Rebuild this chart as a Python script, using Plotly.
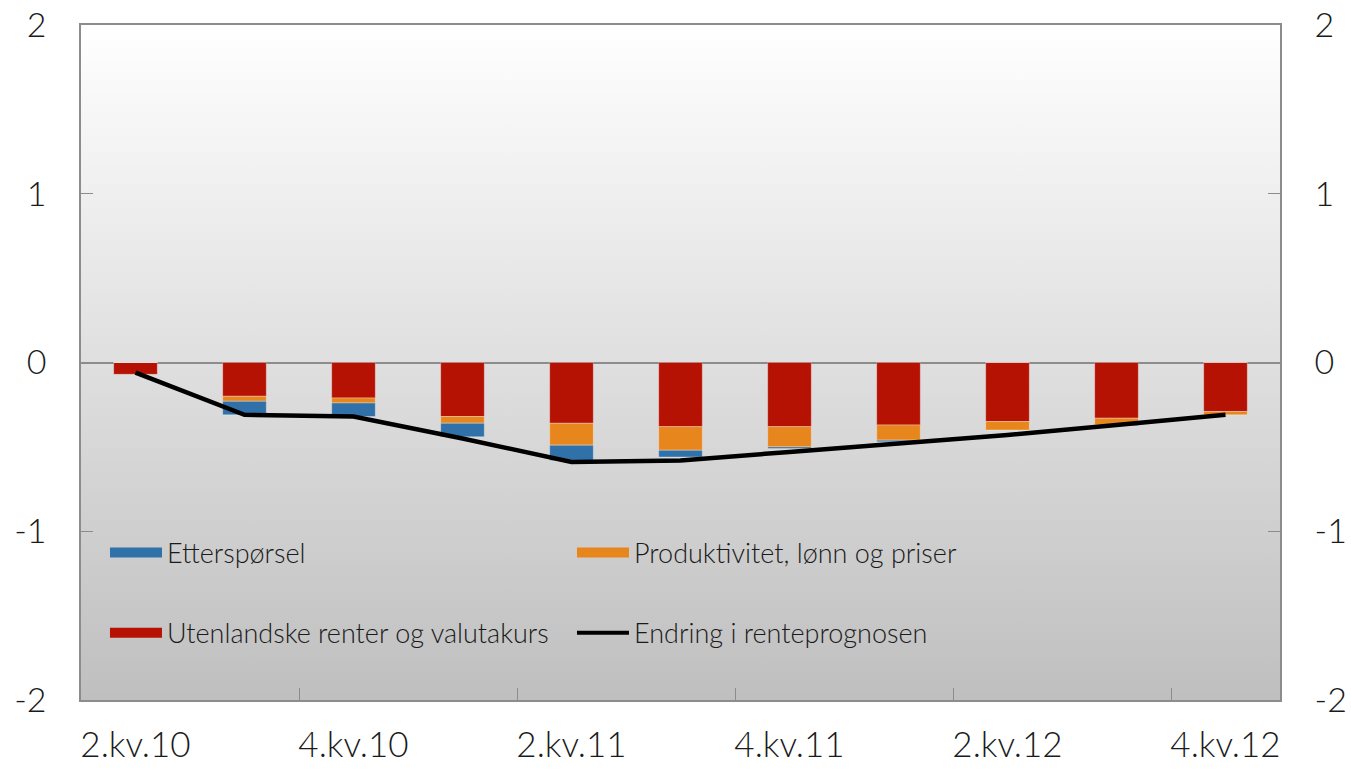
import base64

import plotly.graph_objects as go

# Data ------------------------------------------------------------------------

quarters = ["2.kv.10", "3.kv.10", "4.kv.10", "1.kv.11", "2.kv.11", "3.kv.11",
            "4.kv.11", "1.kv.12", "2.kv.12", "3.kv.12", "4.kv.12"]

utenlandske = [-0.07, -0.20, -0.21, -0.32, -0.36, -0.38, -0.38, -0.37, -0.35, -0.33, -0.29]
produktivitet = [0.0, -0.03, -0.03, -0.04, -0.13, -0.14, -0.12, -0.09, -0.05, -0.04, -0.02]
etterspoersel = [0.0, -0.08, -0.08, -0.08, -0.09, -0.04, -0.01, -0.01, 0.0, -0.005, 0.0]
endring = [-0.06, -0.31, -0.32, -0.45, -0.59, -0.58, -0.53, -0.48, -0.43, -0.37, -0.31]

y_ticks = [-2, -1, 0, 1, 2]
y_ticktext = ["-2", "-1", "0", "1", "2"]

# Styles ----------------------------------------------------------------------

BLUE = "#3171a9"
ORANGE = "#e8861e"
RED = "#b51204"
AXIS = "#8c8c8c"
TEXT = "#1a1a1a"
FONT = "'Lato Light', Lato, 'Open Sans', sans-serif"

# vertical white -> grey gradient behind the plot area
_svg = (
    '<svg xmlns="http://www.w3.org/2000/svg" width="10" height="100" preserveAspectRatio="none">'
    '<defs><linearGradient id="g" x1="0" y1="0" x2="0" y2="1">'
    '<stop offset="0" stop-color="#ffffff"/><stop offset="1" stop-color="#bfbfbf"/>'
    '</linearGradient></defs><rect width="10" height="100" fill="url(#g)"/></svg>'
)
GRADIENT = "data:image/svg+xml;base64," + base64.b64encode(_svg.encode()).decode()

fig = go.Figure()

bar_line = dict(color="rgba(255,255,255,0.3)", width=1)
for name, vals, col in [
    ("Utenlandske renter og valutakurs", utenlandske, RED),
    ("Produktivitet, lønn og priser", produktivitet, ORANGE),
    ("Etterspørsel", etterspoersel, BLUE),
]:
    fig.add_trace(go.Bar(
        x=quarters, y=vals, name=name,
        marker=dict(color=col, line=bar_line),
        showlegend=False,
    ))

fig.add_trace(go.Scatter(
    x=quarters, y=endring, mode="lines", yaxis="y2",
    line=dict(color="black", width=4.5),
    showlegend=False,
))

# legend entries (wide swatches like the original)
for name, col, w, leg in [
    ("Etterspørsel", BLUE, 16, "legend"),
    ("Produktivitet, lønn og priser", ORANGE, 16, "legend"),
    ("Utenlandske renter og valutakurs", RED, 16, "legend2"),
    ("Endring i renteprognosen", "black", 4, "legend2"),
]:
    fig.add_trace(go.Scatter(
        x=[None], y=[None], mode="lines", name=name,
        line=dict(color=col, width=w), legend=leg, showlegend=True,
    ))

legend_style = dict(
    orientation="h", bgcolor="rgba(0,0,0,0)", borderwidth=0,
    font=dict(family=FONT, size=27, color=TEXT, weight=300),
    itemwidth=52, entrywidth=400, entrywidthmode="pixels",
    xanchor="left", yanchor="middle", x=0.02,
    traceorder="normal",
)

yaxis_common = dict(
    range=[-2, 2], tickmode="array", tickvals=y_ticks, ticktext=y_ticktext,
    ticks="inside", ticklen=12, tickcolor=AXIS,
    showgrid=False, showline=True, linecolor=AXIS, linewidth=1.5,
    tickfont=dict(family=FONT, size=34, color=TEXT, weight=300),
    ticklabelstandoff=26, ticklabeloverflow="allow", automargin=False,
)

fig.update_layout(
    width=1351, height=769,
    margin=dict(l=81, r=71, t=25, b=69),
    paper_bgcolor="white",
    plot_bgcolor="rgba(0,0,0,0)",
    barmode="relative",
    bargap=0.6,
    font=dict(family=FONT, color=TEXT),
    xaxis=dict(
        type="category", range=[-0.5, 10.5],
        tickmode="linear", tick0=0, dtick=2, tickson="boundaries",
        ticks="inside", ticklen=12, tickcolor=AXIS, tickangle=0,
        showline=True, linecolor=AXIS, linewidth=1.5, mirror=True,
        showgrid=False, automargin=False, ticklabeloverflow="allow",
        tickfont=dict(family=FONT, size=35, color=TEXT, weight=300),
        ticklabelstandoff=13,
    ),
    yaxis=dict(
        **yaxis_common,
        zeroline=True, zerolinecolor=AXIS, zerolinewidth=2,
    ),
    yaxis2=dict(
        **yaxis_common,
        overlaying="y", side="right", zeroline=False,
    ),
    legend=dict(**legend_style, y=0.218),
    legend2=dict(**legend_style, y=0.099),
    images=[dict(
        source=GRADIENT, xref="x domain", yref="y domain",
        x=0, y=1, sizex=1, sizey=1, xanchor="left", yanchor="top",
        sizing="stretch", layer="below",
    )],
)

# drop the default 8px page margin so the figure fills the window exactly
fig.write_html(
    "out.html",
    config={"displayModeBar": False},
    post_script="document.body.style.margin='0';document.body.style.overflow='hidden';",
)
